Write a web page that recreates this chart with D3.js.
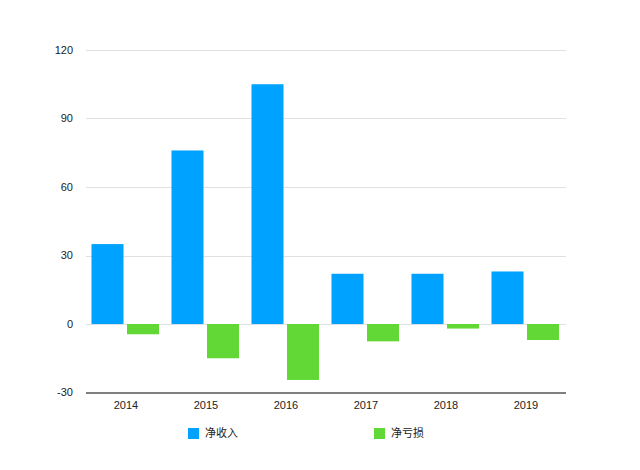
<!DOCTYPE html>
<html>
<head>
<meta charset="utf-8">
<title>净收入 / 净亏损</title>
<style>
  body { margin: 0; background: #fff; }
  text { font-family: "Liberation Sans", Arial, "Noto Sans CJK SC", sans-serif; font-size: 11px; fill: #222; }
  .legend text { font-family: "Noto Sans CJK SC", sans-serif; font-size: 11px; }
</style>
<script src="https://d3js.org/d3.v7.min.js"></script>
</head>
<body>
<script>
// chart data
var years = ["2014", "2015", "2016", "2017", "2018", "2019"];
var income = [35, 76, 105, 22, 22, 23];
var loss = [-4.5, -15, -24.5, -7.6, -2, -7];
var yTicks = [-30, 0, 30, 60, 90, 120];
var seriesNames = ["净收入", "净亏损"];
var colors = ["#00a2ff", "#61d836"];

var width = 640, height = 470;
var svg = d3.select("body").append("svg")
    .attr("width", width)
    .attr("height", height);

var x = d3.scaleBand().domain(years).range([86, 566]);
var y = d3.scaleLinear().domain([-30, 120]).range([392.5, 50]);

// gridlines
svg.append("g").selectAll("line")
    .data(yTicks.filter(function(d) { return d != -30; }))
    .enter().append("line")
    .attr("x1", 86).attr("x2", 566)
    .attr("y1", function(d) { return Math.round(y(d)) + 0.5; })
    .attr("y2", function(d) { return Math.round(y(d)) + 0.5; })
    .attr("stroke", "#e0e0e0")
    .attr("stroke-width", 1);

// y labels
svg.append("g").selectAll("text")
    .data(yTicks)
    .enter().append("text")
    .attr("x", 73)
    .attr("y", function(d) { return y(d); })
    .attr("dy", "0.35em")
    .attr("text-anchor", "end")
    .text(function(d) { return d; });

// bars
var bw = 32;
svg.append("g").selectAll("rect")
    .data(income)
    .enter().append("rect")
    .attr("x", function(d, i) { return x(years[i]) + 5.5; })
    .attr("width", bw)
    .attr("y", function(d) { return y(d); })
    .attr("height", function(d) { return y(0) - y(d); })
    .attr("fill", colors[0]);

svg.append("g").selectAll("rect")
    .data(loss)
    .enter().append("rect")
    .attr("x", function(d, i) { return x(years[i]) + 41; })
    .attr("width", bw)
    .attr("y", y(0))
    .attr("height", function(d) { return y(d) - y(0); })
    .attr("fill", colors[1]);

// bottom axis line
svg.append("line")
    .attr("x1", 86).attr("x2", 566)
    .attr("y1", 393).attr("y2", 393)
    .attr("stroke", "#555")
    .attr("stroke-width", 1.5);

// x labels
svg.append("g").selectAll("text")
    .data(years)
    .enter().append("text")
    .attr("x", function(d) { return x(d) + x.bandwidth() / 2; })
    .attr("y", 409)
    .attr("text-anchor", "middle")
    .text(function(d) { return d; });

// legend
var legendX = [188, 374];
var lg = svg.append("g").attr("class", "legend");
lg.selectAll("rect")
    .data(seriesNames)
    .enter().append("rect")
    .attr("x", function(d, i) { return legendX[i]; })
    .attr("y", 428)
    .attr("width", 11).attr("height", 11)
    .attr("fill", function(d, i) { return colors[i]; });
lg.selectAll("text")
    .data(seriesNames)
    .enter().append("text")
    .attr("x", function(d, i) { return legendX[i] + 17; })
    .attr("y", 433.5)
    .attr("dy", "0.35em")
    .text(function(d) { return d; });
</script>
</body>
</html>
